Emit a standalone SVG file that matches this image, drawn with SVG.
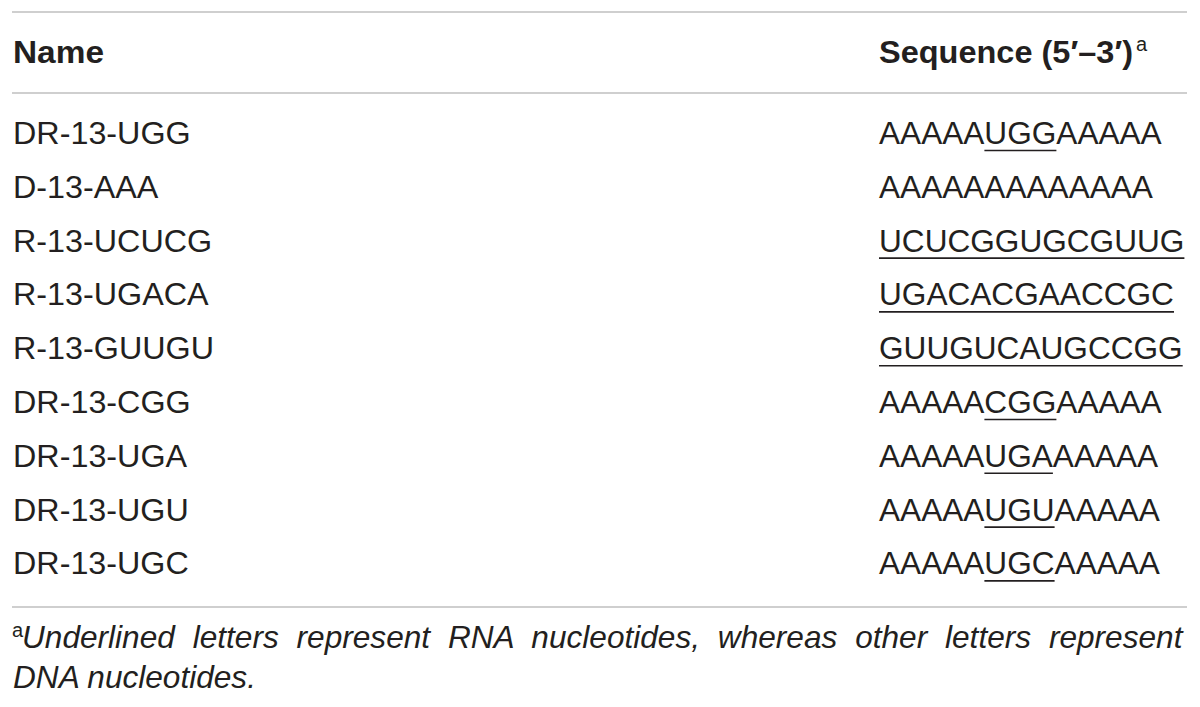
<svg xmlns="http://www.w3.org/2000/svg" width="1200" height="707" viewBox="0 0 1200 707">
  <style>
    text { font-family: "Liberation Sans", Arial, Helvetica, sans-serif; fill: #231f20; }
    .hd { font-size: 31.6px; font-weight: bold; }
    .sup { font-size: 20px; }
    .cell { font-size: 31.6px; }
    .fn { font-size: 31.6px; font-style: italic; }
    .just { word-spacing: 9.1px; }
    .rule { stroke: #cfcfcf; stroke-width: 2; }
    .ul { stroke: #231f20; stroke-width: 1.6; }
  </style>
  <rect width="1200" height="707" fill="#ffffff"/>

  <g id="rules">
    <line class="rule" x1="12" y1="12" x2="1187" y2="12"/>
    <line class="rule" x1="12" y1="93" x2="1187" y2="93"/>
    <line class="rule" x1="12" y1="607" x2="1187" y2="607"/>
  </g>

  <g id="header">
    <text class="hd" x="13" y="63" textLength="91" lengthAdjust="spacingAndGlyphs">Name</text>
    <text class="hd" x="879" y="63" textLength="254" lengthAdjust="spacingAndGlyphs">Sequence (5′–3′)</text>
    <text class="sup" x="1136" y="51">a</text>
  </g>

  <g id="row-1">
    <text class="cell" x="13" y="144" textLength="177.7" lengthAdjust="spacingAndGlyphs">DR-13-UGG</text>
    <text class="cell" x="879" y="144">AAAAAUGGAAAAA</text>
    <line class="ul" x1="984.4" y1="150.5" x2="1056.4" y2="150.5"/>
  </g>
  <g id="row-2">
    <text class="cell" x="13" y="197.8" textLength="145.4" lengthAdjust="spacingAndGlyphs">D-13-AAA</text>
    <text class="cell" x="879" y="197.8">AAAAAAAAAAAAA</text>
  </g>
  <g id="row-3">
    <text class="cell" x="13" y="251.6" textLength="199.2" lengthAdjust="spacingAndGlyphs">R-13-UCUCG</text>
    <text class="cell" x="879" y="251.6">UCUCGGUGCGUUG</text>
    <line class="ul" x1="879" y1="258.1" x2="1184.4" y2="258.1"/>
  </g>
  <g id="row-4">
    <text class="cell" x="13" y="305.4" textLength="195.6" lengthAdjust="spacingAndGlyphs">R-13-UGACA</text>
    <text class="cell" x="879" y="305.4">UGACACGAACCGC</text>
    <line class="ul" x1="879" y1="311.9" x2="1174" y2="311.9"/>
  </g>
  <g id="row-5">
    <text class="cell" x="13" y="359.2" textLength="201" lengthAdjust="spacingAndGlyphs">R-13-GUUGU</text>
    <text class="cell" x="879" y="359.2">GUUGUCAUGCCGG</text>
    <line class="ul" x1="879" y1="365.7" x2="1182.7" y2="365.7"/>
  </g>
  <g id="row-6">
    <text class="cell" x="13" y="413" textLength="177.7" lengthAdjust="spacingAndGlyphs">DR-13-CGG</text>
    <text class="cell" x="879" y="413">AAAAACGGAAAAA</text>
    <line class="ul" x1="984.4" y1="419.5" x2="1056.4" y2="419.5"/>
  </g>
  <g id="row-7">
    <text class="cell" x="13" y="466.8" textLength="174.1" lengthAdjust="spacingAndGlyphs">DR-13-UGA</text>
    <text class="cell" x="879" y="466.8">AAAAAUGAAAAAA</text>
    <line class="ul" x1="984.4" y1="473.3" x2="1052.9" y2="473.3"/>
  </g>
  <g id="row-8">
    <text class="cell" x="13" y="520.6" textLength="175.8" lengthAdjust="spacingAndGlyphs">DR-13-UGU</text>
    <text class="cell" x="879" y="520.6">AAAAAUGUAAAAA</text>
    <line class="ul" x1="984.4" y1="527.1" x2="1054.6" y2="527.1"/>
  </g>
  <g id="row-9">
    <text class="cell" x="13" y="574.4" textLength="175.8" lengthAdjust="spacingAndGlyphs">DR-13-UGC</text>
    <text class="cell" x="879" y="574.4">AAAAAUGCAAAAA</text>
    <line class="ul" x1="984.4" y1="580.9" x2="1054.6" y2="580.9"/>
  </g>

  <g id="footnote">
    <text class="sup" x="12" y="637">a</text>
    <text class="fn just" x="22" y="648">Underlined letters represent RNA nucleotides, whereas other letters represent</text>
    <text class="fn" x="13" y="688">DNA nucleotides.</text>
  </g>
</svg>
